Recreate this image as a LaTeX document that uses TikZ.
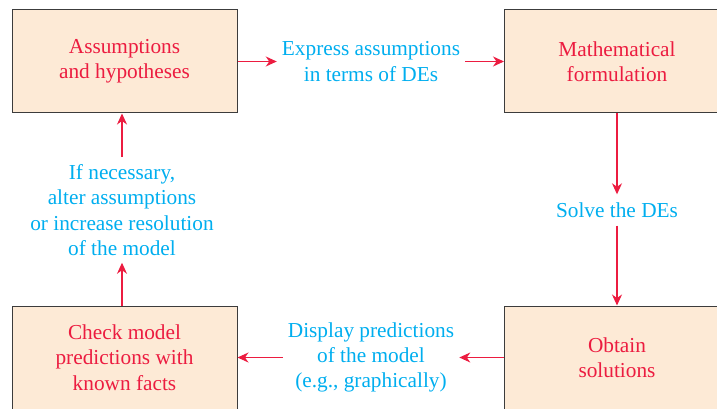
\documentclass[tikz,border=0pt]{standalone}
\usepackage{fontspec}
\setmainfont{Liberation Serif}
\usetikzlibrary{positioning,arrows.meta}

\definecolor{boxred}{RGB}{236,28,64}
\definecolor{labelcyan}{RGB}{0,174,239}
\definecolor{boxfill}{RGB}{253,234,214}
\definecolor{boxline}{RGB}{60,60,60}

\tikzset{
  stagebox/.style={draw=boxline, line width=1pt, fill=boxfill, text=boxred,
    minimum width=225pt, minimum height=103pt, align=center,
    font=\fontsize{21.3}{25.3}\selectfont},
  steplabel/.style={text=labelcyan, align=center, inner sep=5pt,
    font=\fontsize{21.3}{25.3}\selectfont},
  flow/.style={draw=boxred, line width=1.2pt, -{Stealth[length=11pt,width=10pt,inset=3.5pt]}}
}

\begin{document}
\begin{tikzpicture}[x=1pt,y=-1pt]
              \useasboundingbox (0,0) rectangle (717,409);
              \clip (0,0) rectangle (717,409);
              \node[stagebox] (assume) at (124.5,61.5) {Assumptions\\and hypotheses};
              \node[stagebox] (formul) at (617,61.5) {Mathematical\\formulation};
              \node[stagebox] (obtain) at (617,357.5) {Obtain\\solutions};
              \node[stagebox] (check) at (124.5,357.5) {Check model\\predictions with\\known facts};

              \node[steplabel] (express) at (371,61.5) {Express assumptions\\in terms of DEs};
              \node[steplabel, inner ysep=8pt] (solve) at (617,210) {Solve the DEs};
              \node[steplabel] (display) at (371,357.5) {Display predictions\\of the model\\(e.g., graphically)};
              \node[steplabel, inner ysep=7pt] (alter) at (122,210) {If necessary,\\alter assumptions\\or increase resolution\\of the model};

              %top row
              \draw[flow] (assume) -- (express);
              \draw[flow] (express) -- (formul);
              %right side
              \draw[flow] (formul.south) -- (solve);
              \draw[flow] (solve) -- (obtain.north);
              %bottom row
              \draw[flow] (obtain) -- (display);
              \draw[flow] (display) -- (check);
              %left side
              \draw[flow] (check.north -| alter) -- (alter);
              \draw[flow] (alter) -- (assume.south -| alter);
            \end{tikzpicture}
\end{document}
